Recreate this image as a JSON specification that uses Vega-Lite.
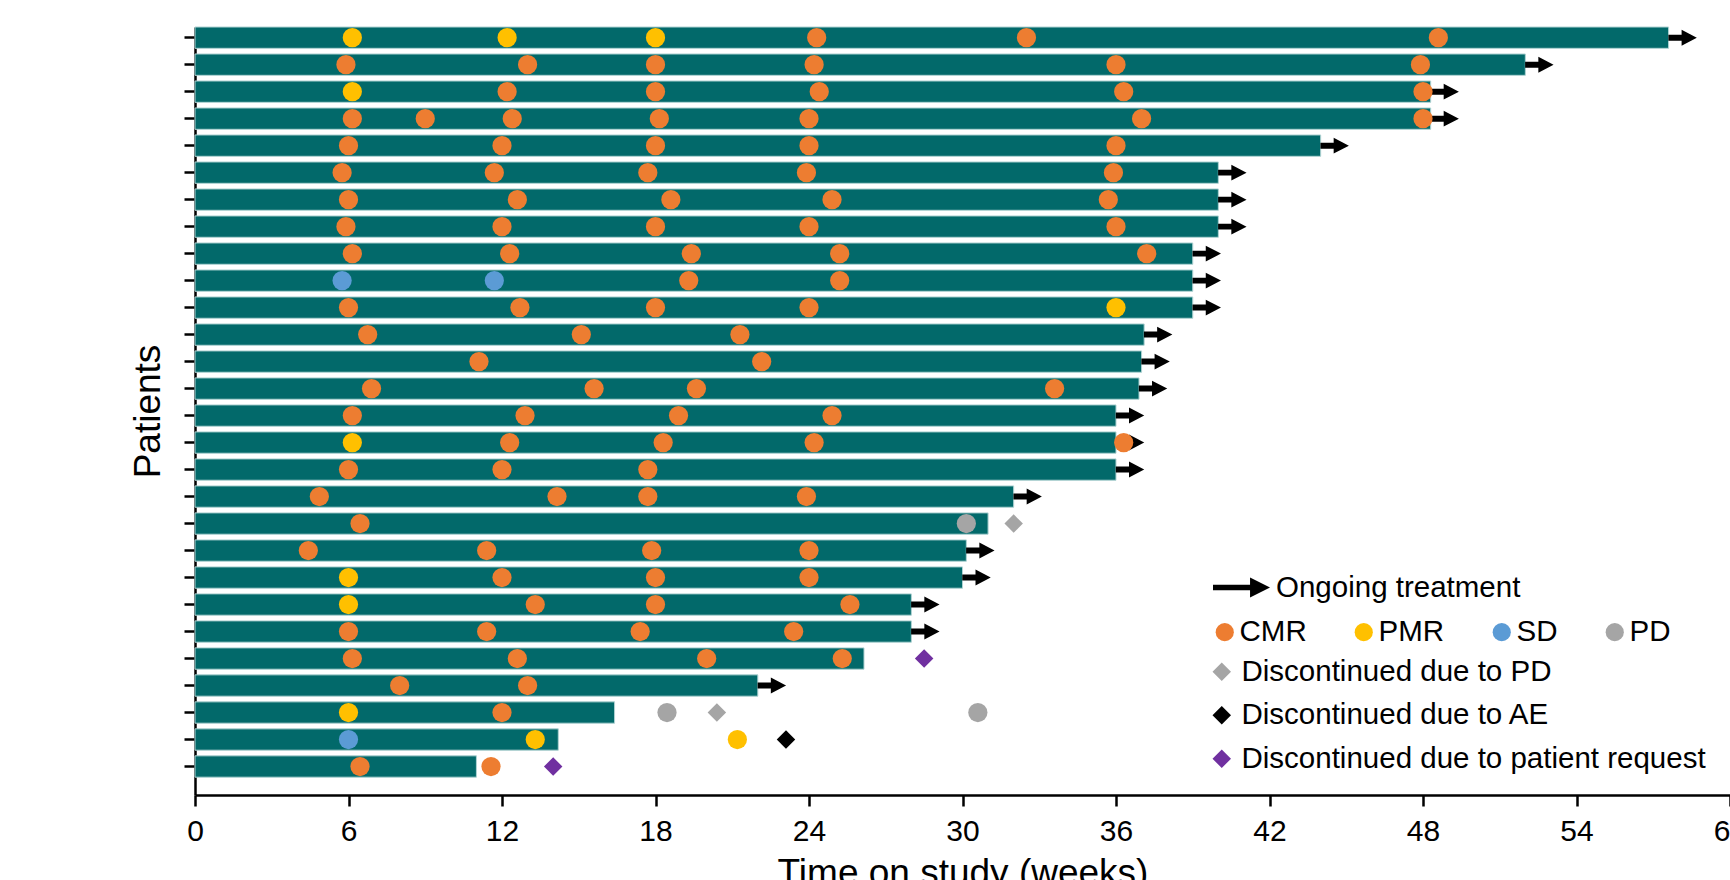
{
  "$schema": "https://vega.github.io/schema/vega-lite/v6.json",
  "width": 1535,
  "height": 768,
  "autosize": {"type": "none"},
  "padding": {"left": 195, "top": 27, "right": 0, "bottom": 85},
  "config": {
    "font": "Liberation Sans",
    "view": {"stroke": null},
    "axis": {"grid": false}
  },
  "datasets": {
    "patients": [
      {"id": 1, "end": 57.6, "status": "Ongoing treatment"},
      {"id": 2, "end": 52.0, "status": "Ongoing treatment"},
      {"id": 3, "end": 48.3, "status": "Ongoing treatment"},
      {"id": 4, "end": 48.3, "status": "Ongoing treatment"},
      {"id": 5, "end": 44.0, "status": "Ongoing treatment"},
      {"id": 6, "end": 40.0, "status": "Ongoing treatment"},
      {"id": 7, "end": 40.0, "status": "Ongoing treatment"},
      {"id": 8, "end": 40.0, "status": "Ongoing treatment"},
      {"id": 9, "end": 39.0, "status": "Ongoing treatment"},
      {"id": 10, "end": 39.0, "status": "Ongoing treatment"},
      {"id": 11, "end": 39.0, "status": "Ongoing treatment"},
      {"id": 12, "end": 37.1, "status": "Ongoing treatment"},
      {"id": 13, "end": 37.0, "status": "Ongoing treatment"},
      {"id": 14, "end": 36.9, "status": "Ongoing treatment"},
      {"id": 15, "end": 36.0, "status": "Ongoing treatment"},
      {"id": 16, "end": 36.0, "status": "Ongoing treatment"},
      {"id": 17, "end": 36.0, "status": "Ongoing treatment"},
      {"id": 18, "end": 32.0, "status": "Ongoing treatment"},
      {"id": 19, "end": 31.0, "status": "Discontinued"},
      {"id": 20, "end": 30.15, "status": "Ongoing treatment"},
      {"id": 21, "end": 30.0, "status": "Ongoing treatment"},
      {"id": 22, "end": 28.0, "status": "Ongoing treatment"},
      {"id": 23, "end": 28.0, "status": "Ongoing treatment"},
      {"id": 24, "end": 26.15, "status": "Discontinued"},
      {"id": 25, "end": 22.0, "status": "Ongoing treatment"},
      {"id": 26, "end": 16.4, "status": "Discontinued"},
      {"id": 27, "end": 14.2, "status": "Discontinued"},
      {"id": 28, "end": 11.0, "status": "Discontinued"}
    ],
    "responses": [
      {"id": 1, "week": 6.15, "response": "PMR"},
      {"id": 1, "week": 12.2, "response": "PMR"},
      {"id": 1, "week": 18.0, "response": "PMR"},
      {"id": 1, "week": 24.3, "response": "CMR"},
      {"id": 1, "week": 32.5, "response": "CMR"},
      {"id": 1, "week": 48.6, "response": "CMR"},
      {"id": 2, "week": 5.9, "response": "CMR"},
      {"id": 2, "week": 13.0, "response": "CMR"},
      {"id": 2, "week": 18.0, "response": "CMR"},
      {"id": 2, "week": 24.2, "response": "CMR"},
      {"id": 2, "week": 36.0, "response": "CMR"},
      {"id": 2, "week": 47.9, "response": "CMR"},
      {"id": 3, "week": 6.15, "response": "PMR"},
      {"id": 3, "week": 12.2, "response": "CMR"},
      {"id": 3, "week": 18.0, "response": "CMR"},
      {"id": 3, "week": 24.4, "response": "CMR"},
      {"id": 3, "week": 36.3, "response": "CMR"},
      {"id": 3, "week": 48.0, "response": "CMR"},
      {"id": 4, "week": 6.15, "response": "CMR"},
      {"id": 4, "week": 9.0, "response": "CMR"},
      {"id": 4, "week": 12.4, "response": "CMR"},
      {"id": 4, "week": 18.15, "response": "CMR"},
      {"id": 4, "week": 24.0, "response": "CMR"},
      {"id": 4, "week": 37.0, "response": "CMR"},
      {"id": 4, "week": 48.0, "response": "CMR"},
      {"id": 5, "week": 6.0, "response": "CMR"},
      {"id": 5, "week": 12.0, "response": "CMR"},
      {"id": 5, "week": 18.0, "response": "CMR"},
      {"id": 5, "week": 24.0, "response": "CMR"},
      {"id": 5, "week": 36.0, "response": "CMR"},
      {"id": 6, "week": 5.75, "response": "CMR"},
      {"id": 6, "week": 11.7, "response": "CMR"},
      {"id": 6, "week": 17.7, "response": "CMR"},
      {"id": 6, "week": 23.9, "response": "CMR"},
      {"id": 6, "week": 35.9, "response": "CMR"},
      {"id": 7, "week": 6.0, "response": "CMR"},
      {"id": 7, "week": 12.6, "response": "CMR"},
      {"id": 7, "week": 18.6, "response": "CMR"},
      {"id": 7, "week": 24.9, "response": "CMR"},
      {"id": 7, "week": 35.7, "response": "CMR"},
      {"id": 8, "week": 5.9, "response": "CMR"},
      {"id": 8, "week": 12.0, "response": "CMR"},
      {"id": 8, "week": 18.0, "response": "CMR"},
      {"id": 8, "week": 24.0, "response": "CMR"},
      {"id": 8, "week": 36.0, "response": "CMR"},
      {"id": 9, "week": 6.15, "response": "CMR"},
      {"id": 9, "week": 12.3, "response": "CMR"},
      {"id": 9, "week": 19.4, "response": "CMR"},
      {"id": 9, "week": 25.2, "response": "CMR"},
      {"id": 9, "week": 37.2, "response": "CMR"},
      {"id": 10, "week": 5.75, "response": "SD"},
      {"id": 10, "week": 11.7, "response": "SD"},
      {"id": 10, "week": 19.3, "response": "CMR"},
      {"id": 10, "week": 25.2, "response": "CMR"},
      {"id": 11, "week": 6.0, "response": "CMR"},
      {"id": 11, "week": 12.7, "response": "CMR"},
      {"id": 11, "week": 18.0, "response": "CMR"},
      {"id": 11, "week": 24.0, "response": "CMR"},
      {"id": 11, "week": 36.0, "response": "PMR"},
      {"id": 12, "week": 6.75, "response": "CMR"},
      {"id": 12, "week": 15.1, "response": "CMR"},
      {"id": 12, "week": 21.3, "response": "CMR"},
      {"id": 13, "week": 11.1, "response": "CMR"},
      {"id": 13, "week": 22.15, "response": "CMR"},
      {"id": 14, "week": 6.9, "response": "CMR"},
      {"id": 14, "week": 15.6, "response": "CMR"},
      {"id": 14, "week": 19.6, "response": "CMR"},
      {"id": 14, "week": 33.6, "response": "CMR"},
      {"id": 15, "week": 6.15, "response": "CMR"},
      {"id": 15, "week": 12.9, "response": "CMR"},
      {"id": 15, "week": 18.9, "response": "CMR"},
      {"id": 15, "week": 24.9, "response": "CMR"},
      {"id": 16, "week": 6.15, "response": "PMR"},
      {"id": 16, "week": 12.3, "response": "CMR"},
      {"id": 16, "week": 18.3, "response": "CMR"},
      {"id": 16, "week": 24.2, "response": "CMR"},
      {"id": 16, "week": 36.3, "response": "CMR"},
      {"id": 17, "week": 6.0, "response": "CMR"},
      {"id": 17, "week": 12.0, "response": "CMR"},
      {"id": 17, "week": 17.7, "response": "CMR"},
      {"id": 18, "week": 4.86, "response": "CMR"},
      {"id": 18, "week": 14.15, "response": "CMR"},
      {"id": 18, "week": 17.7, "response": "CMR"},
      {"id": 18, "week": 23.9, "response": "CMR"},
      {"id": 19, "week": 6.45, "response": "CMR"},
      {"id": 19, "week": 30.15, "response": "PD"},
      {"id": 20, "week": 4.43, "response": "CMR"},
      {"id": 20, "week": 11.4, "response": "CMR"},
      {"id": 20, "week": 17.85, "response": "CMR"},
      {"id": 20, "week": 24.0, "response": "CMR"},
      {"id": 21, "week": 6.0, "response": "PMR"},
      {"id": 21, "week": 12.0, "response": "CMR"},
      {"id": 21, "week": 18.0, "response": "CMR"},
      {"id": 21, "week": 24.0, "response": "CMR"},
      {"id": 22, "week": 6.0, "response": "PMR"},
      {"id": 22, "week": 13.3, "response": "CMR"},
      {"id": 22, "week": 18.0, "response": "CMR"},
      {"id": 22, "week": 25.6, "response": "CMR"},
      {"id": 23, "week": 6.0, "response": "CMR"},
      {"id": 23, "week": 11.4, "response": "CMR"},
      {"id": 23, "week": 17.4, "response": "CMR"},
      {"id": 23, "week": 23.4, "response": "CMR"},
      {"id": 24, "week": 6.15, "response": "CMR"},
      {"id": 24, "week": 12.6, "response": "CMR"},
      {"id": 24, "week": 20.0, "response": "CMR"},
      {"id": 24, "week": 25.3, "response": "CMR"},
      {"id": 25, "week": 8.0, "response": "CMR"},
      {"id": 25, "week": 13.0, "response": "CMR"},
      {"id": 26, "week": 6.0, "response": "PMR"},
      {"id": 26, "week": 12.0, "response": "CMR"},
      {"id": 26, "week": 18.45, "response": "PD"},
      {"id": 26, "week": 30.6, "response": "PD"},
      {"id": 27, "week": 6.0, "response": "SD"},
      {"id": 27, "week": 13.3, "response": "PMR"},
      {"id": 27, "week": 21.2, "response": "PMR"},
      {"id": 28, "week": 6.45, "response": "CMR"},
      {"id": 28, "week": 11.57, "response": "CMR"}
    ],
    "disc": [
      {"id": 19, "week": 32.0, "reason": "Discontinued due to PD"},
      {"id": 24, "week": 28.5, "reason": "Discontinued due to patient request"},
      {"id": 26, "week": 20.4, "reason": "Discontinued due to PD"},
      {"id": 27, "week": 23.1, "reason": "Discontinued due to AE"},
      {"id": 28, "week": 14.0, "reason": "Discontinued due to patient request"}
    ]
  },
  "encoding": {
    "y": {
      "field": "id",
      "type": "ordinal",
      "scale": {
        "domain": [1,2,3,4,5,6,7,8,9,10,11,12,13,14,15,16,17,18,19,20,21,22,23,24,25,26,27,28],
        "paddingInner": 0.21,
        "paddingOuter": 0.33,
        "align": 0
      },
      "axis": {
        "title": "Patients",
        "labels": false,
        "tickSize": 11,
        "tickWidth": 2.5,
        "tickColor": "black",
        "domainWidth": 2.5,
        "domainColor": "black",
        "titleFontSize": 37,
        "titleFontWeight": "normal",
        "titleColor": "black",
        "titlePadding": 15
      }
    },
    "x": {
      "field": "week",
      "type": "quantitative",
      "scale": {"domain": [0, 60], "nice": false},
      "axis": {
        "title": "Time on study (weeks)",
        "values": [0, 6, 12, 18, 24, 30, 36, 42, 48, 54, 60],
        "tickSize": 11,
        "tickWidth": 2.5,
        "tickColor": "black",
        "domainWidth": 2.5,
        "domainColor": "black",
        "labelFontSize": 30,
        "labelColor": "black",
        "labelPadding": 10,
        "labelFlush": false,
        "labelOverlap": false,
        "titleFontSize": 37,
        "titleFontWeight": "normal",
        "titleColor": "black",
        "titlePadding": 9
      }
    }
  },
  "layer": [
    {
      "data": {"name": "patients"},
      "mark": {"type": "bar", "color": "#02696A", "stroke": "#B0D3D3", "strokeWidth": 1},
      "encoding": {
        "x": {"field": "end", "type": "quantitative"}
      }
    },
    {
      "data": {"name": "patients"},
      "transform": [{"filter": "datum.status == 'Ongoing treatment'"}],
      "mark": {
        "type": "point",
        "shape": "M-1,-0.21L-0.07,-0.21L-0.07,-0.56L1,0L-0.07,0.56L-0.07,0.21L-1,0.21Z",
        "size": 810,
        "filled": true,
        "color": "black",
        "strokeWidth": 0,
        "xOffset": 14
      },
      "encoding": {
        "x": {"field": "end", "type": "quantitative"},
        "opacity": {
          "field": "status",
          "type": "ordinal",
          "scale": {"domain": ["Ongoing treatment"], "range": [1]},
          "legend": {
            "orient": "none",
            "legendX": 1018,
            "legendY": 532,
            "title": null,
            "padding": 0,
            "symbolType": "M-1,-0.093L0.3,-0.093L0.3,-0.35L1,0L0.3,0.35L0.3,0.093L-1,0.093Z",
            "symbolSize": 3249,
            "symbolFillColor": "black",
            "symbolStrokeWidth": 0,
            "labelFontSize": 29.5,
            "labelColor": "black",
            "labelOffset": 6,
            "labelLimit": 600
          }
        }
      }
    },
    {
      "data": {"name": "responses"},
      "mark": {"type": "point", "shape": "circle", "filled": true, "size": 370, "opacity": 1, "strokeWidth": 0},
      "encoding": {
        "color": {
          "field": "response",
          "type": "nominal",
          "scale": {"domain": ["CMR", "PMR", "SD", "PD"], "range": ["#ED7D31", "#FFC000", "#5B9BD5", "#A5A5A5"]},
          "legend": {
            "orient": "none",
            "legendX": 1015,
            "legendY": 590,
            "direction": "horizontal",
            "columns": 4,
            "columnPadding": 42,
            "title": null,
            "padding": 0,
            "symbolType": "circle",
            "symbolSize": 330,
            "symbolStrokeWidth": 0,
            "labelFontSize": 29.5,
            "labelColor": "black",
            "labelOffset": 0,
            "labelLimit": 600
          }
        }
      }
    },
    {
      "data": {"name": "disc"},
      "mark": {"type": "point", "shape": "diamond", "filled": true, "size": 342, "opacity": 1, "strokeWidth": 0},
      "encoding": {
        "fill": {
          "field": "reason",
          "type": "nominal",
          "scale": {
            "domain": ["Discontinued due to PD", "Discontinued due to AE", "Discontinued due to patient request"],
            "range": ["#A5A5A5", "#000000", "#7030A0"]
          },
          "legend": {
            "orient": "none",
            "legendX": 1012,
            "legendY": 630,
            "direction": "vertical",
            "title": null,
            "padding": 0,
            "rowPadding": 12.5,
            "symbolType": "diamond",
            "symbolSize": 342,
            "symbolStrokeWidth": 0,
            "labelFontSize": 29.5,
            "labelColor": "black",
            "labelOffset": 5,
            "labelLimit": 600
          }
        }
      }
    }
  ]
}
